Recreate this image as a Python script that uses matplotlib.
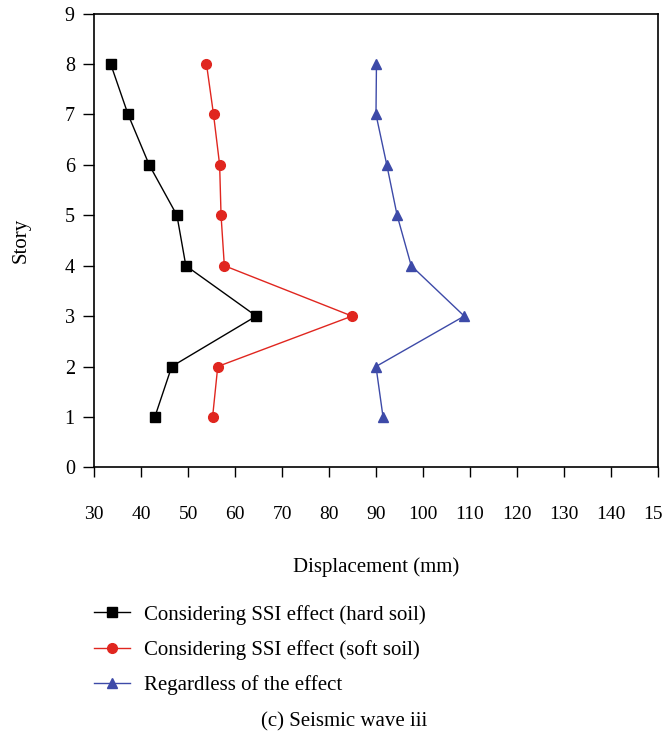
import matplotlib
matplotlib.use("Agg")
import matplotlib.pyplot as plt

story = [1, 2, 3, 4, 5, 6, 7, 8]
hard_soil = [42.9, 46.5, 64.5, 49.5, 47.6, 41.7, 37.2, 33.5]
soft_soil = [55.2, 56.3, 84.9, 57.7, 57.0, 56.7, 55.4, 53.9]
no_ssi = [91.5, 90.0, 108.8, 97.5, 94.5, 92.3, 90.0, 90.1]

labels = ["Considering SSI effect (hard soil)",
          "Considering SSI effect (soft soil)",
          "Regardless of the effect"]

plt.rcParams["font.family"] = ["Liberation Serif", "DejaVu Serif"]

fig = plt.figure(figsize=(6.63, 7.35), dpi=100)
ax = fig.add_axes([0.1422, 0.3642, 0.8498, 0.6172])

l1, = ax.plot(hard_soil, story, color="black", lw=1, marker="s", ms=6.5)
l2, = ax.plot(soft_soil, story, color="#e0261f", lw=1, marker="o", ms=7)
l3, = ax.plot(no_ssi, story, color="#3d4aa8", lw=1, marker="^", ms=7.5)

ax.set_xlim(30, 150)
ax.set_ylim(0, 9)
ax.set_xticks(range(30, 151, 10))
ax.set_yticks(range(0, 10))
ax.tick_params(axis="x", length=7, width=1, pad=21, labelsize=14)
ax.tick_params(axis="y", length=8, width=1, pad=6, labelsize=14.5)
for s in ax.spines.values():
    s.set_linewidth(1.2)

fig.text(376 / 663, 1 - 567 / 735, "Displacement (mm)", ha="center", va="center", fontsize=15)
fig.text(21 / 663, 1 - 240 / 735, "Story", ha="center", va="center", rotation=90, fontsize=15)

fig.legend([l1, l2, l3], labels, loc="upper left", bbox_to_anchor=(75 / 663, 1 - 586 / 735),
           frameon=False, fontsize=15, handlelength=1.73, handletextpad=0.67, labelspacing=0.74)

fig.text(344 / 663, 1 - 722 / 735, "(c) Seismic wave iii", ha="center", va="center", fontsize=15)

fig.savefig("out.png", dpi=100)
